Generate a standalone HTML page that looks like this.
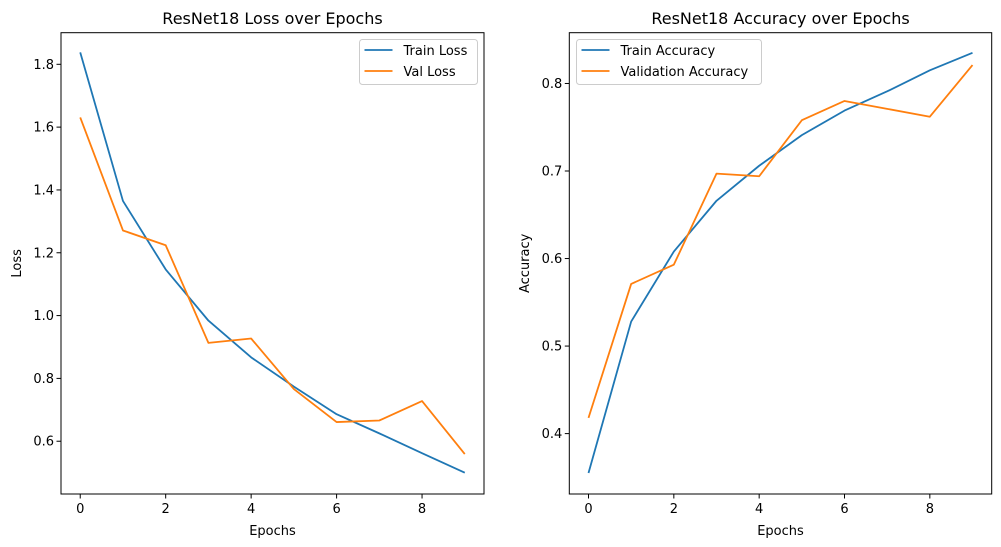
<!DOCTYPE html>
<html><head><meta charset="utf-8"><style>
body{margin:0;background:#fff;}
svg{display:block;font-family:"DejaVu Sans","Liberation Sans",sans-serif;}
</style></head><body>
<svg id="fig" width="1001" height="547" viewBox="0 0 1001 547"></svg>
<script>
const epochs=[0,1,2,3,4,5,6,7,8,9];
const trainLoss=[1.838,1.365,1.147,0.984,0.867,0.774,0.686,0.625,0.562,0.500];
const valLoss=[1.631,1.271,1.224,0.913,0.927,0.766,0.661,0.666,0.728,0.559];
const trainAcc=[0.355,0.528,0.608,0.666,0.706,0.741,0.769,0.791,0.815,0.835];
const valAcc=[0.418,0.571,0.593,0.697,0.694,0.758,0.780,0.771,0.762,0.821];
const xTicks=[0,2,4,6,8];
const lossTicks=[0.6,0.8,1.0,1.2,1.4,1.6,1.8];
const accTicks=[0.4,0.5,0.6,0.7,0.8];
const NS="http://www.w3.org/2000/svg";
const svg=document.getElementById('fig');
function mk(tag,attrs,parent){const e=document.createElementNS(NS,tag);for(const k in attrs)e.setAttribute(k,attrs[k]);(parent||svg).appendChild(e);return e;}
function panel(cfg){
  const g=mk('g',{});
  
  
  const L=cfg.left,R=cfg.right,T=32.7,B=494;
  const xs=v=>L+(v-(-0.45))/(9.45-(-0.45))*(R-L);
  const ys=v=>B-(v-cfg.ymin)/(cfg.ymax-cfg.ymin)*(B-T);
  const t=mk('text',{x:(L+R)/2,y:24,'text-anchor':'middle','font-size':16,fill:'#000'},g);t.textContent=cfg.title;
  
  
  xTicks.forEach(v=>{mk('line',{x1:xs(v),x2:xs(v),y1:B,y2:B+4.5,stroke:'#000','stroke-width':1},g);
    const tx=mk('text',{x:xs(v),y:B+19,'text-anchor':'middle','font-size':13,fill:'#000'},g);tx.textContent=v;
    
    });
  cfg.ticks.forEach(v=>{mk('line',{x1:L-4.5,x2:L,y1:ys(v),y2:ys(v),stroke:'#000','stroke-width':1},g);
    const ty=mk('text',{x:L-7,y:ys(v)+4.5,'text-anchor':'end','font-size':13,fill:'#000'},g);ty.textContent=v.toFixed(1);
    
    });
  const xl=mk('text',{x:(L+R)/2,y:535,'text-anchor':'middle','font-size':13,fill:'#000'},g);xl.textContent='Epochs';
  
  
  const yl=mk('text',{x:0,y:0,'text-anchor':'middle','font-size':13,fill:'#000',transform:`translate(${cfg.ylx},${(T+B)/2}) rotate(-90)`},g);yl.textContent=cfg.ylabel;
  
  
  cfg.series.forEach(s=>{
    const p=mk('polyline',{points:epochs.map((e,i)=>xs(e)+','+ys(s.data[i])).join(' '),fill:'none',stroke:s.color,'stroke-width':1.8,'stroke-linejoin':'round'},g);
    
    
  });
  mk('rect',{x:L,y:T,width:R-L,height:B-T,fill:'none',stroke:'#000','stroke-width':1},g);
  const lg=mk('g',{},g);
  
  
  mk('rect',{x:cfg.lx,y:39.5,width:cfg.lw,height:45,rx:3,fill:'#fff',stroke:'#ccc','stroke-width':1},lg);
  cfg.series.forEach((s,i)=>{
    const y=50+i*21;
    mk('line',{x1:cfg.lx+5,x2:cfg.lx+33,y1:y,y2:y,stroke:s.color,'stroke-width':1.8},lg);
    const lt=mk('text',{x:cfg.lx+44,y:y+5,'font-size':13,fill:'#000'},lg);lt.textContent=s.label;
    
    
  });
}
panel({name:'loss-chart',left:61,right:484,ymin:0.432,ymax:1.9006,ticks:lossTicks,title:'ResNet18 Loss over Epochs',ylabel:'Loss',ylx:21,lx:359.5,lw:118,
  series:[{id:'train-loss-line',label:'Train Loss',data:trainLoss,color:'#1f77b4'},{id:'val-loss-line',label:'Val Loss',data:valLoss,color:'#ff7f0e'}]});
panel({name:'accuracy-chart',left:569.3,right:991.7,ymin:0.331,ymax:0.858,ticks:accTicks,title:'ResNet18 Accuracy over Epochs',ylabel:'Accuracy',ylx:529,lx:576.5,lw:185,
  series:[{id:'train-accuracy-line',label:'Train Accuracy',data:trainAcc,color:'#1f77b4'},{id:'val-accuracy-line',label:'Validation Accuracy',data:valAcc,color:'#ff7f0e'}]});
</script>
</body></html>
